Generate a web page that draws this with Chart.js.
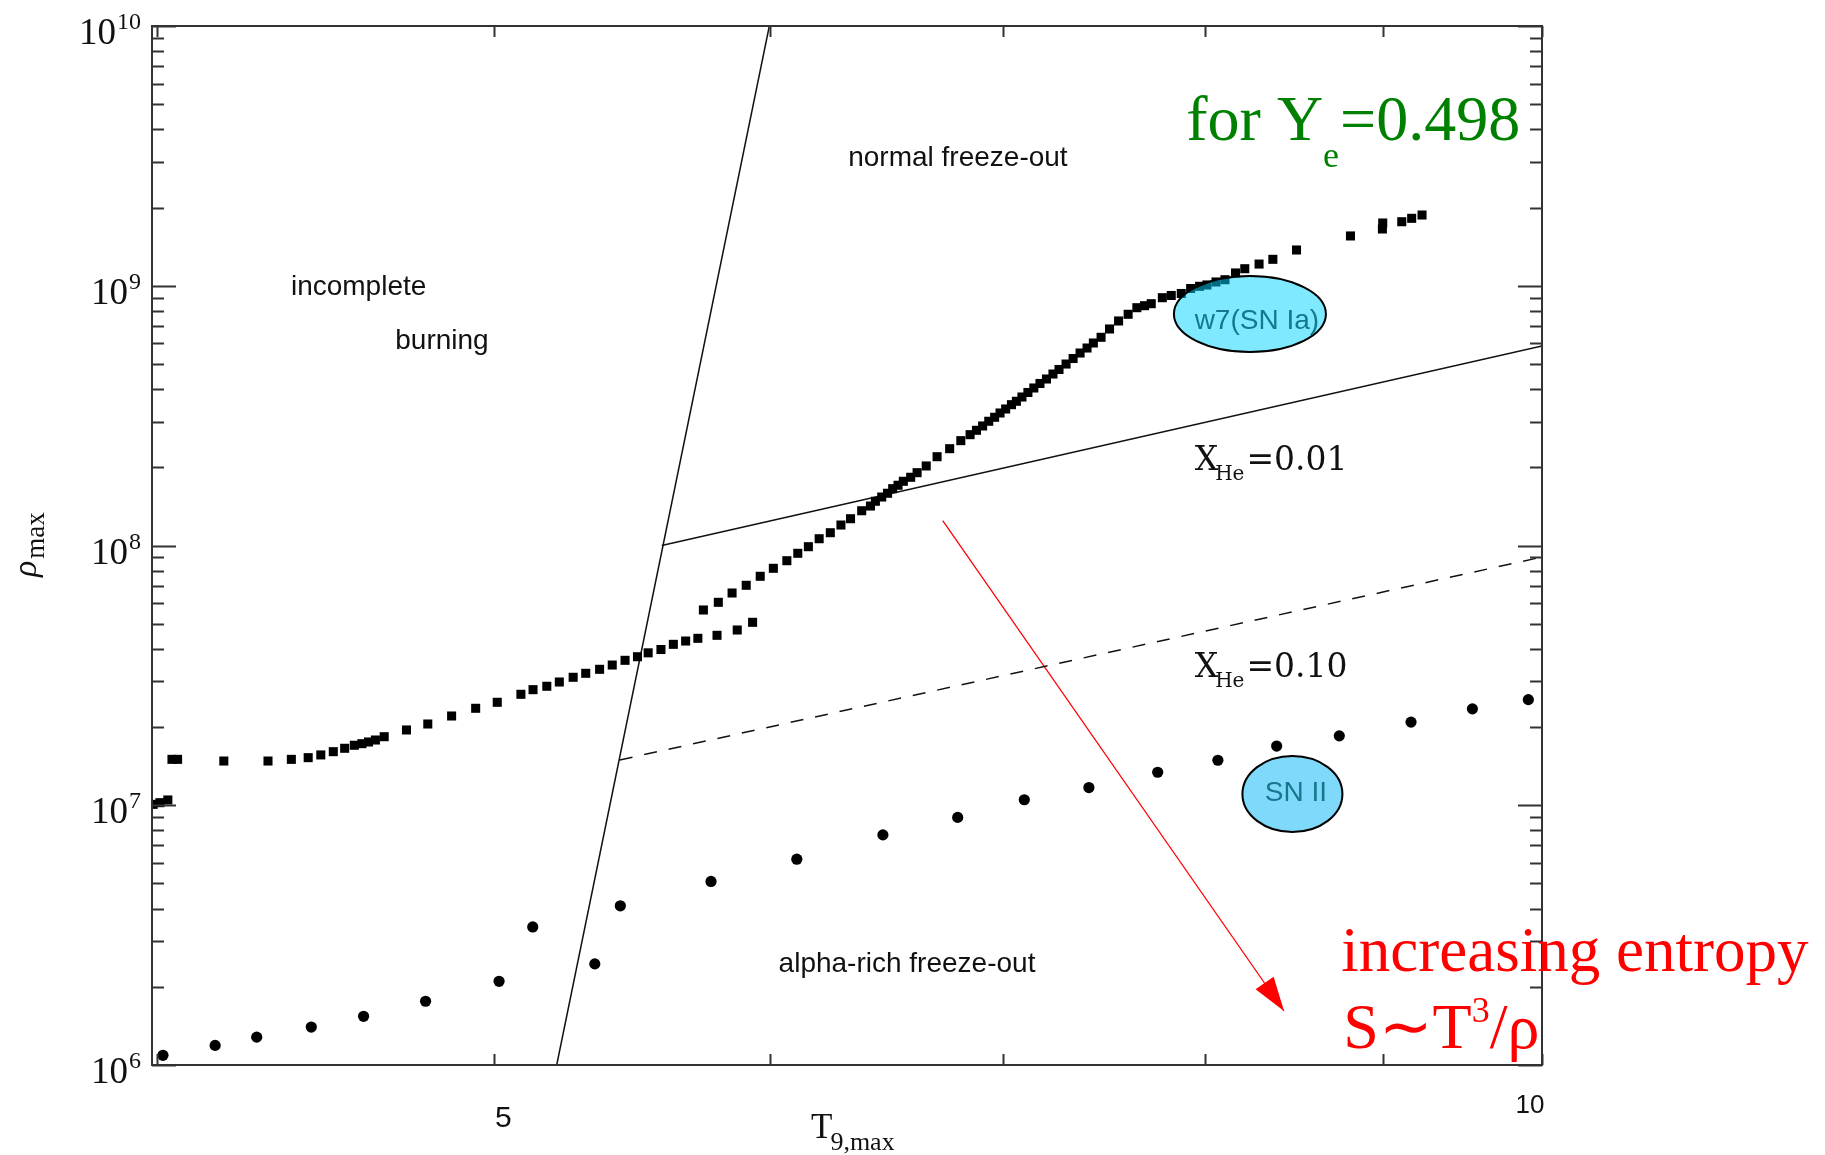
<html>
<head>
<script src="https://cdn.jsdelivr.net/npm/chart.js@4.4.1/dist/chart.umd.min.js"></script>
<style>
body { margin: 0; background: #fff; }
</style>
</head>
<body>
<canvas id="myChart" width="1825" height="1155"></canvas>
<script>

// Ye=0.498 trajectory points (squares): T9,max and rho_max
var sqT = [3.990, 4.008, 4.029, 4.040, 4.055, 4.181, 4.305, 4.372, 4.421, 4.458,
  4.495, 4.529, 4.558, 4.581, 4.601, 4.622, 4.649, 4.718, 4.785, 4.861,
  4.939, 5.010, 5.089, 5.130, 5.177, 5.220, 5.268, 5.312, 5.361, 5.406,
  5.452, 5.497, 5.536, 5.583, 5.629, 5.675, 5.721, 5.794, 5.872, 5.932,
  5.742, 5.799, 5.852, 5.907, 5.962, 6.014, 6.068, 6.112, 6.155, 6.199,
  6.245, 6.289, 6.329, 6.376, 6.413, 6.434, 6.461, 6.486, 6.508, 6.531,
  6.554, 6.586, 6.614, 6.654, 6.702, 6.758, 6.808, 6.850, 6.879, 6.907,
  6.935, 6.962, 6.987, 7.013, 7.040, 7.063, 7.089, 7.117, 7.145, 7.174,
  7.205, 7.236, 7.265, 7.299, 7.333, 7.367, 7.401, 7.432, 7.470, 7.512,
  7.557, 7.605, 7.649, 7.688, 7.722, 7.779, 7.825, 7.877, 7.926, 7.973,
  8.012, 8.060, 8.108, 8.165, 8.215, 8.293, 8.369, 8.501, 8.810, 8.998,
  9.000, 9.114, 9.174, 9.237];
var sqRho = [1.008e7, 1.023e7, 1.048e7, 1.502e7, 1.502e7, 1.480e7, 1.480e7, 1.502e7, 1.525e7, 1.562e7,
  1.608e7, 1.657e7, 1.702e7, 1.726e7, 1.752e7, 1.783e7, 1.836e7, 1.949e7, 2.055e7, 2.206e7,
  2.362e7, 2.491e7, 2.674e7, 2.786e7, 2.871e7, 2.982e7, 3.109e7, 3.221e7, 3.337e7, 3.466e7,
  3.614e7, 3.731e7, 3.862e7, 3.977e7, 4.164e7, 4.288e7, 4.392e7, 4.511e7, 4.728e7, 5.062e7,
  5.646e7, 6.043e7, 6.564e7, 7.028e7, 7.611e7, 8.170e7, 8.739e7, 9.333e7, 9.895e7, 1.062e8,
  1.120e8, 1.199e8, 1.268e8, 1.361e8, 1.419e8, 1.480e8, 1.537e8, 1.589e8, 1.655e8, 1.706e8,
  1.767e8, 1.831e8, 1.907e8, 2.024e8, 2.197e8, 2.359e8, 2.533e8, 2.671e8, 2.777e8, 2.885e8,
  3.008e8, 3.116e8, 3.237e8, 3.354e8, 3.485e8, 3.591e8, 3.730e8, 3.882e8, 4.040e8, 4.205e8,
  4.375e8, 4.573e8, 4.760e8, 4.996e8, 5.246e8, 5.509e8, 5.758e8, 6.020e8, 6.332e8, 6.817e8,
  7.318e8, 7.765e8, 8.232e8, 8.379e8, 8.529e8, 8.995e8, 9.173e8, 9.337e8, 9.759e8, 9.951e8,
  1.007e9, 1.034e9, 1.055e9, 1.120e9, 1.163e9, 1.212e9, 1.264e9, 1.373e9, 1.555e9, 1.654e9,
  1.744e9, 1.764e9, 1.818e9, 1.872e9];

// second trajectory (round dots)
var dotT = [4.016, 4.157, 4.273, 4.430, 4.586, 4.778, 5.016, 5.129, 5.344, 5.435, 5.771, 6.108,
  6.466, 6.794, 7.100, 7.410, 7.755, 8.070, 8.390, 8.745, 9.170, 9.550, 9.910];
var dotRho = [1.09e6, 1.19e6, 1.28e6, 1.40e6, 1.54e6, 1.76e6, 2.10e6, 3.40e6, 2.45e6, 4.10e6, 5.09e6, 6.20e6,
  7.69e6, 8.98e6, 1.05e7, 1.17e7, 1.34e7, 1.49e7, 1.69e7, 1.85e7, 2.09e7, 2.35e7, 2.55e7];

// boundary lines
var edgeT = [5.211, 5.998];
var edgeRho = [1e6, 1e10];
var he01T = [5.586, 10];
var he01Rho = [1.0e8, 5.86e8];
var he10T = [5.433, 10];
var he10Rho = [1.494e7, 9.03e7];
var arrowT = [6.727, 8.431];
var arrowRho = [1.248e8, 1.614e6];

// axis ticks
var xTicks = [4, 5, 6, 7, 8, 9, 10];
var xTickLabels = ['', '5', '', '', '', '', '10'];
var yDecades = [6, 7, 8, 9, 10];

// region names
var regionText = ['incomplete', 'burning', 'normal freeze-out', 'alpha-rich freeze-out'];
var regionT = [4.571, 4.830, 6.795, 6.570];
var regionRho = [9.85e8, 6.13e8, 3.10e9, 2.45e6];

// supernova blobs
var blobText = ['w7(SN Ia)', 'SN II'];
var blobT = [8.243, 8.478];
var blobRho = [7.78e8, 1.105e7];
var blobTextT = [8.281, 8.498];
var blobTextRho = [7.318e8, 1.115e7];

function pts(xs, ys) {
  return xs.map(function(x, i) { return {x: x, y: ys[i]}; });
}

function runs(ctx, x, y, parts) {
  parts.forEach(function(p) {
    ctx.font = p[1];
    ctx.fillText(p[0], x, y + (p[2] || 0));
    x += ctx.measureText(p[0]).width + (p[3] || 0);
  });
  return x;
}

var decor = {
  id: 'decor',
  afterDatasetsDraw: function(chart) {
    var ctx = chart.ctx, xs = chart.scales.x, ys = chart.scales.y, a = chart.chartArea;
    ctx.save();

    // arrow head
    var x0 = xs.getPixelForValue(arrowT[0]), y0 = ys.getPixelForValue(arrowRho[0]);
    var x1 = xs.getPixelForValue(arrowT[1]), y1 = ys.getPixelForValue(arrowRho[1]);
    ctx.save();
    ctx.translate(x1, y1);
    ctx.rotate(Math.atan2(y1 - y0, x1 - x0));
    ctx.beginPath();
    ctx.moveTo(0, 0); ctx.lineTo(-34, -11); ctx.lineTo(-34, 11); ctx.closePath();
    ctx.fillStyle = '#ff0000';
    ctx.fill();
    ctx.restore();

    // blobs
    var fills = ['rgba(0,214,255,0.5)', 'rgba(0,180,245,0.5)'];
    var rx = [76, 50], ry = [38, 38];
    blobText.forEach(function(t, i) {
      var cx = xs.getPixelForValue(blobT[i]), cy = ys.getPixelForValue(blobRho[i]);
      ctx.beginPath();
      ctx.ellipse(cx, cy, rx[i], ry[i], 0, 0, Math.PI * 2);
      ctx.fillStyle = fills[i];
      ctx.fill();
      ctx.lineWidth = 2;
      ctx.strokeStyle = '#000';
      ctx.stroke();
      ctx.font = '28px "Liberation Sans"';
      ctx.fillStyle = '#15788e';
      ctx.textAlign = 'center';
      ctx.textBaseline = 'middle';
      ctx.fillText(t, xs.getPixelForValue(blobTextT[i]), ys.getPixelForValue(blobTextRho[i]));
    });

    // frame
    ctx.strokeStyle = '#333';
    ctx.lineWidth = 2;
    ctx.strokeRect(a.left, a.top, a.right - a.left, a.bottom - a.top);

    // y ticks, both sides
    ctx.beginPath();
    yDecades.forEach(function(d) {
      for (var m = 1; m <= 9; m++) {
        var v = m * Math.pow(10, d);
        if (v > 1e10) break;
        var py = Math.round(ys.getPixelForValue(v)) + 0.5;
        var len = m == 1 ? 24 : 12;
        ctx.moveTo(a.left, py); ctx.lineTo(a.left + len, py);
        ctx.moveTo(a.right, py); ctx.lineTo(a.right - len, py);
      }
    });
    // x ticks, top and bottom
    xTicks.forEach(function(t) {
      var px = Math.round(xs.getPixelForValue(t)) + 0.5;
      ctx.moveTo(px, a.bottom); ctx.lineTo(px, a.bottom - 11);
      ctx.moveTo(px, a.top); ctx.lineTo(px, a.top + 11);
    });
    ctx.stroke();

    // y tick labels 10^n
    ctx.fillStyle = '#111';
    ctx.textAlign = 'left';
    ctx.textBaseline = 'alphabetic';
    yDecades.forEach(function(d) {
      var py = ys.getPixelForValue(Math.pow(10, d));
      ctx.font = '24px "Liberation Serif"';
      var sw = ctx.measureText(String(d)).width;
      ctx.font = '37px "Liberation Serif"';
      var mw = ctx.measureText('10').width;
      var xl = 140 - sw - mw;
      runs(ctx, xl, py + 18, [['10', '37px "Liberation Serif"', 0, 1], [String(d), '24px "Liberation Serif"', -15]]);
    });

    // x tick labels
    ctx.textAlign = 'center';
    xTicks.forEach(function(t, i) {
      if (!xTickLabels[i]) return;
      var px = xs.getPixelForValue(t);
      if (xTickLabels[i] == '5') {
        ctx.font = '30px "Liberation Sans"';
        ctx.fillText('5', px + 9, a.bottom + 62);
      } else {
        ctx.font = '26px "Liberation Sans"';
        ctx.fillText(xTickLabels[i], px - 12, a.bottom + 48);
      }
    });

    // axis titles
    ctx.textAlign = 'left';
    runs(ctx, 811, 1138, [['T', '35px "Liberation Serif"', 0, -2], ['9,max', '26px "Liberation Serif"', 12]]);
    ctx.save();
    ctx.translate(36, 577);
    ctx.rotate(-Math.PI / 2);
    runs(ctx, 0, 0, [['\u03c1', 'italic 34px "Liberation Serif"', 0, 2], ['max', '27px "Liberation Serif"', 8]]);
    ctx.restore();

    // region names
    ctx.font = '28px "Liberation Sans"';
    ctx.fillStyle = '#111';
    ctx.textAlign = 'center';
    ctx.textBaseline = 'middle';
    regionText.forEach(function(t, i) {
      ctx.fillText(t, xs.getPixelForValue(regionT[i]), ys.getPixelForValue(regionRho[i]));
    });

    // X_He labels
    ctx.textAlign = 'left';
    ctx.textBaseline = 'alphabetic';
    var lx = xs.getPixelForValue(7.947);
    runs(ctx, lx, ys.getPixelForValue(1.953e8), [['X', '33px "DejaVu Serif"', 0, -3], ['He', '20px "DejaVu Serif"', 10, 2], ['=0.01', '33px "DejaVu Serif"']]);
    runs(ctx, lx, ys.getPixelForValue(3.117e7), [['X', '33px "DejaVu Serif"', 0, -3], ['He', '20px "DejaVu Serif"', 10, 2], ['=0.10', '33px "DejaVu Serif"']]);

    // Ye note
    ctx.fillStyle = '#008000';
    runs(ctx, xs.getPixelForValue(7.903), ys.getPixelForValue(3.64e9), [['for Y', '64px "Liberation Serif"'], ['e', '36px "Liberation Serif"', 27, 1], ['=0.498', '64px "Liberation Serif"']]);

    // entropy note
    ctx.fillStyle = '#ff0000';
    var ex = xs.getPixelForValue(8.757);
    runs(ctx, ex, ys.getPixelForValue(2.30e6), [['increasing entropy', '63px "Liberation Serif"']]);
    runs(ctx, ex + 2, ys.getPixelForValue(1.163e6), [['S', '64px "Liberation Serif"'], ['\u223c', '64px "DejaVu Sans"'], ['T', '64px "Liberation Serif"'], ['3', '36px "Liberation Serif"', -26], ['/\u03c1', '64px "Liberation Serif"']]);

    ctx.restore();
  }
};

var chart = new Chart(document.getElementById('myChart').getContext('2d'), {
  type: 'scatter',
  data: {
    datasets: [
      {data: pts(sqT, sqRho), pointStyle: 'rect', pointRadius: 6.4, pointBackgroundColor: '#000', pointBorderWidth: 0},
      {data: pts(dotT, dotRho), pointStyle: 'circle', pointRadius: 5.6, pointBackgroundColor: '#000', pointBorderWidth: 0},
      {data: pts(edgeT, edgeRho), showLine: true, pointRadius: 0, borderColor: '#111', borderWidth: 1.5},
      {data: pts(he01T, he01Rho), showLine: true, pointRadius: 0, borderColor: '#111', borderWidth: 1.5},
      {data: pts(he10T, he10Rho), showLine: true, pointRadius: 0, borderColor: '#111', borderWidth: 1.5, borderDash: [13, 12]},
      {data: pts(arrowT, arrowRho), showLine: true, pointRadius: 0, borderColor: '#ff0000', borderWidth: 1.3}
    ]
  },
  options: {
    responsive: false,
    animation: false,
    devicePixelRatio: 1,
    layout: {padding: {left: 152, right: 283, top: 26, bottom: 90}},
    plugins: {legend: {display: false}, tooltip: {enabled: false}},
    scales: {
      x: {type: 'logarithmic', min: 3.987, max: 10, display: false},
      y: {type: 'logarithmic', min: 1e6, max: 1e10, display: false}
    }
  },
  plugins: [decor]
});
</script>
</body>
</html>
